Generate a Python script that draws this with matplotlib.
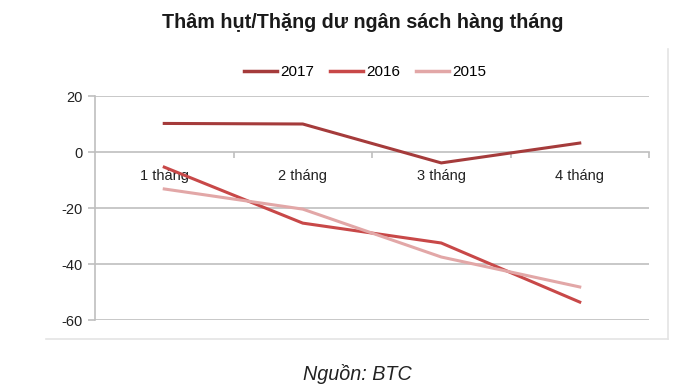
import matplotlib
matplotlib.use('Agg')
import matplotlib.pyplot as plt
from matplotlib.lines import Line2D
from matplotlib import font_manager

plt.rcParams.update({'font.family': ['Liberation Sans', 'DejaVu Sans'], 'figure.dpi': 100})

months = ['1 tháng', '2 tháng', '3 tháng', '4 tháng']
y2017 = [10.2, 10.0, -3.9, 3.2]
y2016 = [-5.4, -25.4, -32.5, -53.6]
y2015 = [-13.2, -20.4, -37.5, -48.2]
years = ['2017', '2016', '2015']
colors = ['#a53b3b', '#c84848', '#e2a7a7']
yticks = [20, 0, -20, -40, -60]

names = {f.name for f in font_manager.fontManager.ttflist}
narrow = 'Liberation Sans Narrow' if 'Liberation Sans Narrow' in names else 'Liberation Sans'

GRID = '#bfbfbf'
fig = plt.figure(figsize=(6.76, 3.91))
ax = fig.add_axes([95/676, 1-320/391, (649-95)/676, (320-96)/391])

x = range(len(months))
for vals, c in zip([y2017, y2016, y2015], colors):
    ax.plot(x, vals, color=c, lw=2.2, solid_joinstyle='miter', zorder=3)

ax.set_xlim(-0.5, 3.5)
ax.set_ylim(-60, 20)
ax.set_yticks(yticks)
ax.set_yticklabels([str(v) for v in yticks], fontsize=10.5, color='#222222')
for v in yticks:
    if v != 0:
        ax.axhline(v, color=GRID, lw=1.2, zorder=1)

for s in ['top', 'right']:
    ax.spines[s].set_visible(False)
ax.spines['left'].set_color(GRID)
ax.spines['left'].set_linewidth(1.2)
ax.spines['bottom'].set_position(('data', 0))
ax.spines['bottom'].set_color(GRID)
ax.spines['bottom'].set_linewidth(1.2)
ax.tick_params(axis='y', length=5, color=GRID, width=1.2, pad=4)

ax.set_xticks(list(x))
ax.set_xticklabels(months, fontsize=10.5, color='#222222')
ax.tick_params(axis='x', which='major', length=0, pad=12)
ax.set_xticks([0.5, 1.5, 2.5, 3.5], minor=True)
ax.tick_params(axis='x', which='minor', length=4, color=GRID, width=1.2, direction='out')

handles = [Line2D([0], [0], color=c, lw=2.5) for c in colors]
fig.legend(handles, years, loc='center', bbox_to_anchor=(365/676, 1-72/391), ncol=3,
           frameon=False, prop={'family': narrow, 'size': 11}, handlelength=2.2,
           handletextpad=0.2, columnspacing=1.0)

fig.text(363/676, 1-22/391, 'Thâm hụt/Thặng dư ngân sách hàng tháng', ha='center', va='center',
         fontsize=14.2, fontweight='bold', color='#1a1a1a')
fig.text(357/676, 1-374/391, 'Nguồn: BTC', ha='center', va='center', fontsize=14.2,
         style='italic', color='#222222')

# chart frame shadow lines
fig.add_artist(Line2D([46/676, 668/676], [1-339/391, 1-339/391], color='#e4e4e4', lw=1.2))
fig.add_artist(Line2D([668/676, 668/676], [1-49/391, 1-339/391], color='#e4e4e4', lw=1.2))

fig.savefig('out.png', dpi=100)
